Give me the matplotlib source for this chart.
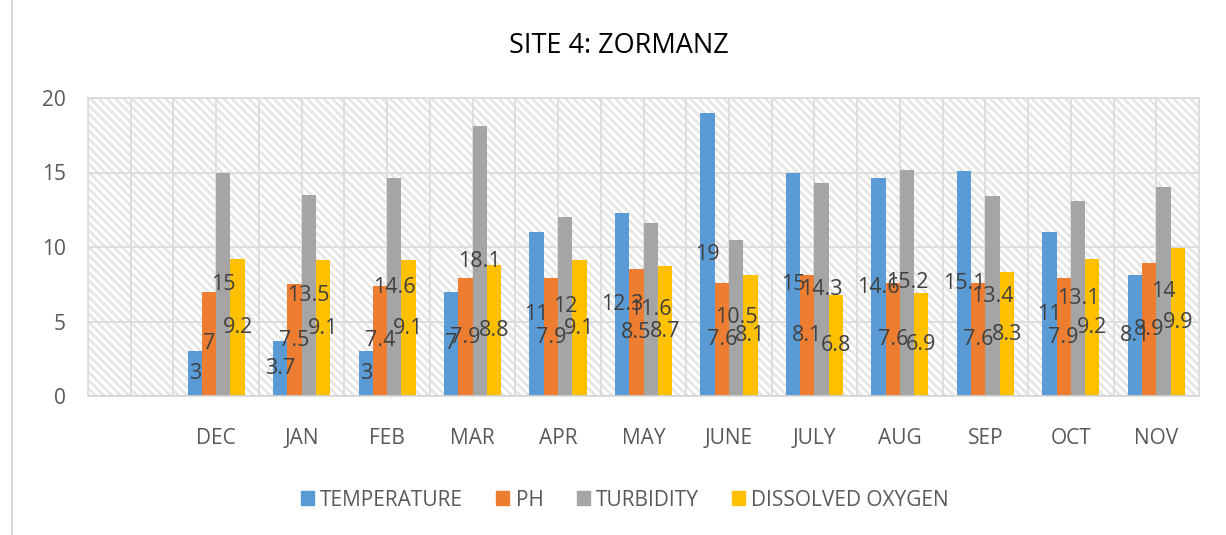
import matplotlib
matplotlib.use("Agg")
import matplotlib.pyplot as plt
import numpy as np
from matplotlib.patches import Rectangle
from matplotlib.lines import Line2D

# data (first slot on the axis is empty)
months = ["", "DEC", "JAN", "FEB", "MAR", "APR", "MAY", "JUNE", "JULY", "AUG", "SEP", "OCT", "NOV"]
temperature = [3, 3.7, 3, 7, 11, 12.3, 19, 15, 14.6, 15.1, 11, 8.1]
ph = [7, 7.5, 7.4, 7.9, 7.9, 8.5, 7.6, 8.1, 7.6, 7.6, 7.9, 8.9]
turbidity = [15, 13.5, 14.6, 18.1, 12, 11.6, 10.5, 14.3, 15.2, 13.4, 13.1, 14]
dissolved_oxygen = [9.2, 9.1, 9.1, 8.8, 9.1, 8.7, 8.1, 6.8, 6.9, 8.3, 9.2, 9.9]

series = [
    ("TEMPERATURE", temperature, "#5B9BD5"),
    ("PH", ph, "#ED7D31"),
    ("TURBIDITY", turbidity, "#A5A5A5"),
    ("DISSOLVED OXYGEN", dissolved_oxygen, "#FFC000"),
]

plt.rcParams["font.family"] = ["Open Sans", "DejaVu Sans"]
plt.rcParams["hatch.linewidth"] = 2.0
plt.rcParams["hatch.color"] = "#E6E6E6"

fig = plt.figure(figsize=(12.26, 5.35), dpi=100)
ax = fig.add_axes([88 / 1226, 1 - 396 / 535, (1199 - 88) / 1226, (396 - 98) / 535])

# hatched plot area background
bg = Rectangle((0, 0), 1, 1, transform=ax.transAxes, facecolor="white",
               edgecolor="#E6E6E6", hatch="\\\\\\\\", lw=0, zorder=0)
ax.add_patch(bg)

x = np.arange(1, len(months))
w = 0.167
for i, (name, vals, col) in enumerate(series):
    pos = x + (i - 1.5) * w
    bars = ax.bar(pos, vals, w, color=col, label=name, zorder=3)
    ax.bar_label(bars, labels=[f"{v:g}" for v in vals], label_type="center",
                 fontsize=15.5, color="#404040", zorder=4)

# gridlines
for gx in np.arange(-0.5, len(months), 0.5):
    ax.axvline(gx, color="#DCDCDC", lw=1.3, zorder=1)
for gy in [5, 10, 15, 20]:
    ax.axhline(gy, color="#DCDCDC", lw=1.3, zorder=1)
ax.axhline(0, color="#D0D0D0", lw=2, zorder=5)

ax.set_xlim(-0.5, len(months) - 0.5)
ax.set_ylim(0, 20)
ax.set_xticks(np.arange(len(months)))
ax.set_xticklabels(months)
ax.set_yticks([0, 5, 10, 15, 20])
ax.tick_params(axis="both", length=0, labelsize=15, labelcolor="#595959")
ax.tick_params(axis="x", pad=23)
ax.tick_params(axis="y", pad=16)
for s in ax.spines.values():
    s.set_color("#DCDCDC")
    s.set_linewidth(1.3)

fig.text(619 / 1226, 1 - 46 / 535, "SITE 4: ZORMANZ", ha="center", va="center",
         fontsize=19.5, color="#000000")

handles = [Rectangle((0, 0), 1, 1, color=c) for _, _, c in series]
fig.legend(handles, [n for n, _, _ in series], loc="center",
           bbox_to_anchor=(625 / 1226, 1 - 500 / 535), ncol=4, frameon=False,
           fontsize=15, labelcolor="#595959", handlelength=0.62, handleheight=0.62,
           handletextpad=0.3, columnspacing=1.6)

# chart border on the left edge
fig.add_artist(Line2D([12 / 1226, 12 / 1226], [0, 1], color="#D9D9D9", lw=1.5))

fig.savefig("out.png", dpi=100)
